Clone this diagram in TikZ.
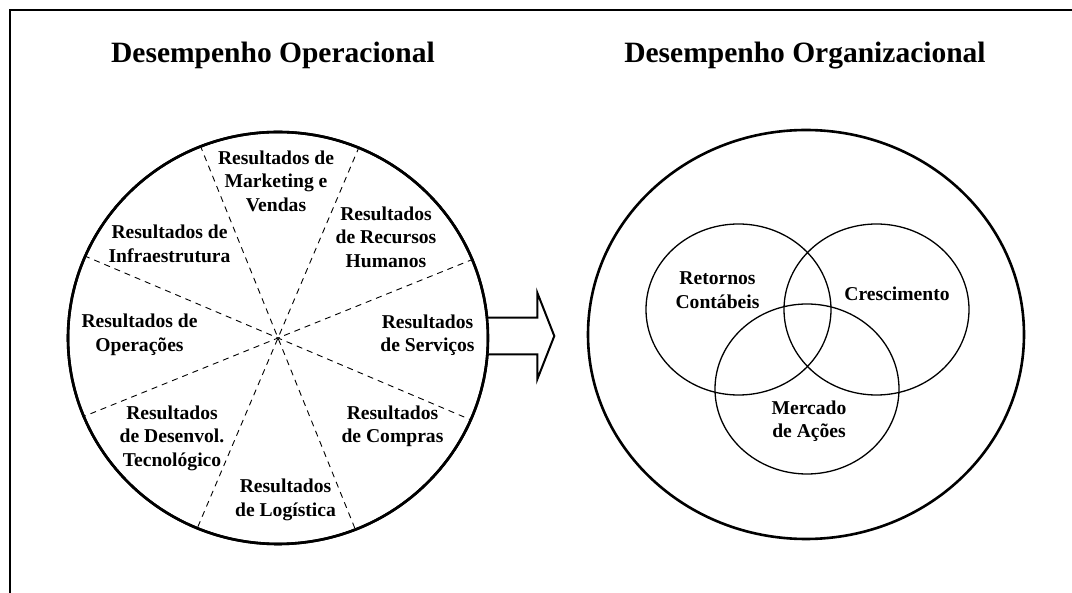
\documentclass[tikz,border=0pt]{standalone}
\usepackage{fontspec}
\setmainfont{Liberation Serif}
\usetikzlibrary{shapes.geometric}
\begin{document}
\begin{tikzpicture}[x=1pt,y=-1pt,
  lbl/.style={font=\bfseries\fontsize{19.6}{23.5}\selectfont, align=center, inner sep=0pt},
  ttl/.style={font=\bfseries\fontsize{29.5}{34}\selectfont, inner sep=0pt, anchor=base},
  bigring/.style={draw, ellipse, line width=2.6pt, inner sep=0pt},
  venn/.style={draw, ellipse, line width=1.3pt, inner sep=0pt},
  sector/.style={dash pattern=on 6pt off 5pt, line width=0.9pt},
  blockarrow/.style={line width=2pt, line join=miter, fill=white},
  frame/.style={line width=1.5pt}]
\useasboundingbox (0,0) rectangle (1072,593);
\draw[frame] (10,593) -- (10,10) -- (1072,10);

% titles
\node[ttl] (t1) at (273,62.5) {Desempenho Operacional};
\node[ttl] (t2) at (805,62.5) {Desempenho Organizacional};

% left circle
\node[bigring, minimum width=420, minimum height=412] (op) at (278,338) {};
% block arrow
\draw[blockarrow, shift={(op.east)}] (-2,-20.3) -- (48,-20.3) -- (48,-45.3) -- (65,-2) -- (48,41.3) -- (48,16.3) -- (-2,16.3);
\node[bigring, minimum width=420, minimum height=412] at (op.center) {};

% sectors
\draw[sector] (op.22.5) -- (op.202.5);
\draw[sector] (op.67.5) -- (op.247.5);
\draw[sector] (op.112.5) -- (op.292.5);
\draw[sector] (op.157.5) -- (op.337.5);

\node[lbl] (mkt) at (276,181) {Resultados de\\Marketing e\\Vendas};
\node[lbl] (rh) at (386,237) {Resultados\\de Recursos\\Humanos};
\node[lbl] (inf) at (169.5,244) {Resultados de\\Infraestrutura};
\node[lbl] (ope) at (139.5,335) {Resultados de\\Operações};
\node[lbl] (ser) at (427.5,335) {Resultados\\de Serviços};
\node[lbl] (com) at (392.5,426.5) {Resultados\\de Compras};
\node[lbl] (des) at (172,438) {Resultados\\de Desenvol.\\Tecnológico};
\node[lbl] (log) at (285.5,500) {Resultados\\de Logística};

% right ellipse
\node[bigring, minimum width=436, minimum height=409] (org) at (806,334.5) {};
\node[venn, minimum width=185, minimum height=171] (ret) at (738.5,309.5) {};
\node[venn, minimum width=185, minimum height=171] (cre) at (876.5,309.5) {};
\node[venn, minimum width=184, minimum height=170] (mer) at (807,389) {};

\node[lbl] (rett) at (717.5,290) {Retornos\\Contábeis};
\node[lbl] (cret) at (897,294) {Crescimento};
\node[lbl] (mert) at (809,421) {Mercado\\de Ações};
\end{tikzpicture}
\end{document}
